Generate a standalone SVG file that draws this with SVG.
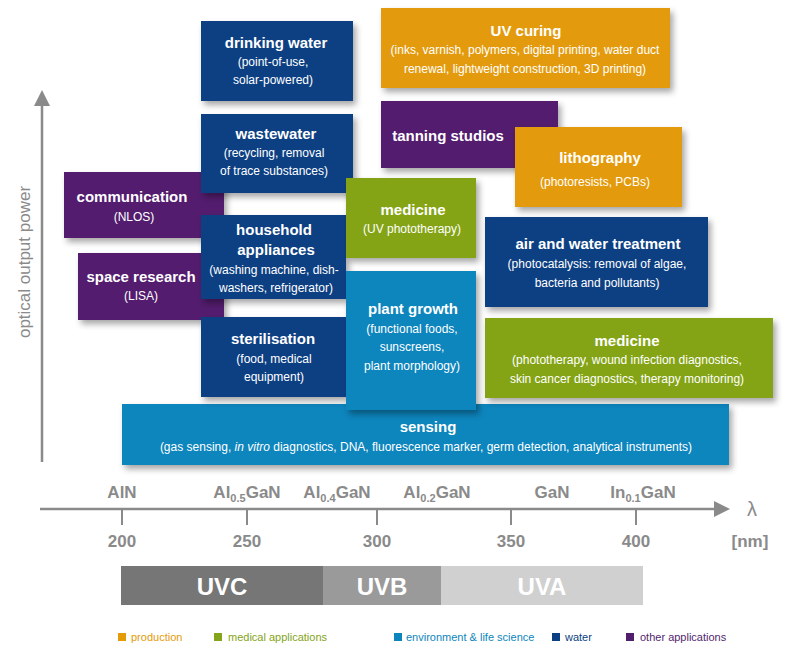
<svg xmlns="http://www.w3.org/2000/svg" width="800" height="655" viewBox="0 0 800 655">
<style>
text{font-family:"Liberation Sans Narrow","Liberation Sans",Arial,sans-serif;text-anchor:middle;fill:#fff}
.t{font-size:15px;font-weight:bold}
.s{font-size:12px}
.w{fill:#0a3f83}.p{fill:#521f6e}.g{fill:#84a419}.b{fill:#0c85bd}.o{fill:#e39b07}
.ax{fill:#8a8a8a;font-size:17px;font-weight:bold}
.lg{font-size:11px;text-anchor:start}
</style>
<defs>
<filter id="sh" x="-10%" y="-10%" width="130%" height="140%"><feDropShadow dx="3" dy="4" stdDeviation="3" flood-color="#000" flood-opacity="0.35"/></filter>
<marker id="ar" markerWidth="16" markerHeight="16" refX="0" refY="8" orient="auto" markerUnits="userSpaceOnUse" viewBox="0 0 16 16"><path d="M0,0L16,8L0,16z" fill="#8a8a8a"/></marker>
</defs>
<rect width="800" height="655" fill="#fff"/>
<g id="axes" stroke="#8a8a8a" stroke-width="2.5" fill="none">
<line x1="42" y1="462" x2="42" y2="106" marker-end="url(#ar)"/>
<line x1="40" y1="509" x2="714" y2="509" marker-end="url(#ar)"/>
<path d="M122 509v16M247 509v16M377 509v16M511 509v16M636 509v16" stroke-width="2"/>
</g>
<text x="30" y="262" transform="rotate(-90 30 262)" style="fill:#8a8a8a;font-size:17px">optical output power</text>
<g id="labels">
<text class="ax" x="122" y="498">AlN</text>
<text class="ax" x="247" y="498">Al<tspan font-size="11" dy="4">0.5</tspan><tspan dy="-4">GaN</tspan></text>
<text class="ax" x="337" y="498">Al<tspan font-size="11" dy="4">0.4</tspan><tspan dy="-4">GaN</tspan></text>
<text class="ax" x="437" y="498">Al<tspan font-size="11" dy="4">0.2</tspan><tspan dy="-4">GaN</tspan></text>
<text class="ax" x="552" y="498">GaN</text>
<text class="ax" x="643" y="498">In<tspan font-size="11" dy="4">0.1</tspan><tspan dy="-4">GaN</tspan></text>
<text class="ax" x="752" y="516" style="font-weight:normal;font-size:20px">λ</text>
<text class="ax" x="122" y="547">200</text>
<text class="ax" x="247" y="547">250</text>
<text class="ax" x="377" y="547">300</text>
<text class="ax" x="511" y="547">350</text>
<text class="ax" x="636" y="547">400</text>
<text class="ax" x="750" y="547">[nm]</text>
</g>
<g id="bands">
<rect x="121" y="566" width="202" height="39" fill="#767676"/>
<rect x="323" y="566" width="118" height="39" fill="#9a9a9a"/>
<rect x="441" y="566" width="202" height="39" fill="#d0d0d0"/>
<text x="222" y="595" style="font-size:24px;font-weight:bold">UVC</text>
<text x="382" y="595" style="font-size:24px;font-weight:bold">UVB</text>
<text x="542" y="595" style="font-size:24px;font-weight:bold">UVA</text>
</g>
<g id="legend">
<rect x="118" y="633" width="8" height="8" class="o"/><text class="lg" x="131" y="641" style="fill:#e39b07">production</text>
<rect x="214" y="633" width="8" height="8" class="g"/><text class="lg" x="228" y="641" style="fill:#84a419">medical applications</text>
<rect x="394" y="633" width="8" height="8" class="b"/><text class="lg" x="406" y="641" style="fill:#0c85bd">environment &amp; life science</text>
<rect x="552" y="633" width="8" height="8" class="w"/><text class="lg" x="565" y="641" style="fill:#0a3f83">water</text>
<rect x="626" y="633" width="8" height="8" class="p"/><text class="lg" x="640" y="641" style="fill:#521f6e">other applications</text>
</g>
<g id="sensing"><rect x="122" y="404" width="607" height="61" class="b" filter="url(#sh)"/>
<text class="t" x="428" y="432">sensing</text>
<text class="s" x="426" y="451">(gas sensing, <tspan font-style="italic">in vitro</tspan> diagnostics, DNA, fluorescence marker, germ detection, analytical instruments)</text></g>
<g id="communication"><rect x="64" y="172" width="160" height="66" class="p" filter="url(#sh)"/>
<text class="t" x="132" y="202">communication</text><text class="s" x="134" y="221">(NLOS)</text></g>
<g id="space"><rect x="78" y="253" width="146" height="67" class="p" filter="url(#sh)"/>
<text class="t" x="141" y="282">space research</text><text class="s" x="141" y="300">(LISA)</text></g>
<g id="drinking"><rect x="201" y="21" width="152" height="80" class="w" filter="url(#sh)"/>
<text class="t" x="276" y="48">drinking water</text><text class="s" x="273" y="66">(point-of-use,</text><text class="s" x="273" y="84">solar-powered)</text></g>
<g id="wastewater"><rect x="201" y="114" width="152" height="79" class="w" filter="url(#sh)"/>
<text class="t" x="276" y="139">wastewater</text><text class="s" x="274" y="157">(recycling, removal</text><text class="s" x="274" y="175">of trace substances)</text></g>
<g id="household"><rect x="201" y="215" width="145" height="84" class="w" filter="url(#sh)"/>
<text class="t" x="274" y="235">household</text><text class="t" x="276" y="255">appliances</text><text class="s" x="274" y="274">(washing machine, dish-</text><text class="s" x="276" y="292">washers, refrigerator)</text></g>
<g id="sterilisation"><rect x="201" y="317" width="145" height="80" class="w" filter="url(#sh)"/>
<text class="t" x="273" y="344">sterilisation</text><text class="s" x="274" y="363">(food, medical</text><text class="s" x="274" y="381">equipment)</text></g>
<g id="medicine1"><rect x="346" y="178" width="130" height="80" class="g" filter="url(#sh)"/>
<text class="t" x="413" y="215">medicine</text><text class="s" x="412" y="233">(UV phototherapy)</text></g>
<g id="plant"><rect x="346" y="271" width="130" height="139" class="b" filter="url(#sh)"/>
<text class="t" x="413" y="314">plant growth</text><text class="s" x="412" y="333">(functional foods,</text><text class="s" x="412" y="351">sunscreens,</text><text class="s" x="412" y="370">plant morphology)</text></g>
<g id="uvcuring"><rect x="381" y="8" width="289" height="80" class="o" filter="url(#sh)"/>
<text class="t" x="526" y="36">UV curing</text><text class="s" x="525" y="54">(inks, varnish, polymers, digital printing, water duct</text><text class="s" x="525" y="73">renewal, lightweight construction, 3D printing)</text></g>
<g id="tanning"><rect x="381" y="101" width="177" height="67" class="p" filter="url(#sh)"/>
<text class="t" x="448" y="141">tanning studios</text></g>
<g id="lithography"><rect x="515" y="127" width="167" height="80" class="o" filter="url(#sh)"/>
<text class="t" x="600" y="163">lithography</text><text class="s" x="595" y="186">(photoresists, PCBs)</text></g>
<g id="airwater"><rect x="485" y="217" width="223" height="90" class="w" filter="url(#sh)"/>
<text class="t" x="598" y="249">air and water treatment</text><text class="s" x="597" y="268">(photocatalysis: removal of algae,</text><text class="s" x="597" y="287">bacteria and pollutants)</text></g>
<g id="medicine2"><rect x="485" y="318" width="288" height="80" class="g" filter="url(#sh)"/>
<text class="t" x="627" y="346">medicine</text><text class="s" x="627" y="364">(phototherapy, wound infection diagnostics,</text><text class="s" x="627" y="383">skin cancer diagnostics, therapy monitoring)</text></g>
<g id="connectors"/>
</svg>
